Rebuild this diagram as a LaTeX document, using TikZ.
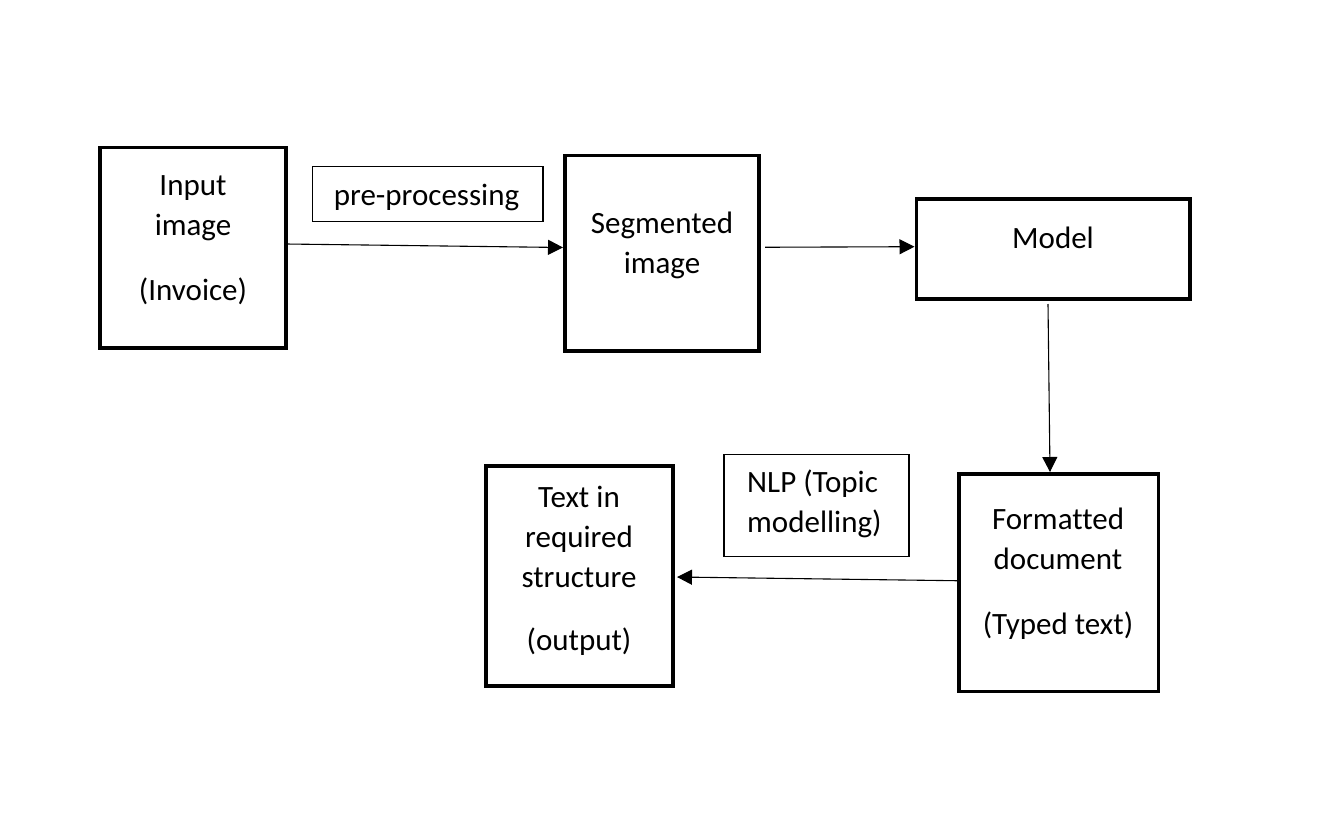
\documentclass[tikz,border=0pt]{standalone}
\usepackage{fontspec}
\setmainfont{Carlito}[Ligatures=NoCommon]
\usetikzlibrary{arrows.meta}
\begin{document}
\begin{tikzpicture}[x=1pt,y=-1pt,
  thickbox/.style={draw=black, line width=3.5pt, inner sep=0pt, outer sep=0pt},
  thinbox/.style={draw=black, line width=1.2pt, inner sep=0pt, outer sep=0pt},
  lbl/.style={font=\fontsize{31}{40}\selectfont, align=center, inner sep=0pt, anchor=base},
  conn/.style={draw=black, line width=1.1pt, -{Triangle[length=15pt,width=15pt]}}]
\useasboundingbox[fill=white] (0,0) rectangle (1322,822);
% boxes
\node[thickbox, minimum width=186pt, minimum height=200.5pt] (inp) at (193,247.75) {};
\node[thickbox, minimum width=194pt, minimum height=195.5pt] (seg) at (662,253.25) {};
\node[thickbox, minimum width=273.5pt, minimum height=100pt] (model) at (1053.25,249) {};
\node[thickbox, minimum width=199.5pt, minimum height=217.5pt] (fmt) at (1058.75,582.75) {};
\node[thickbox, minimum width=187pt, minimum height=220pt] (out) at (579.5,576) {};
\node[thinbox, minimum width=230.5pt, minimum height=55pt] (pre) at (427.75,194) {};
\node[thinbox, minimum width=185pt, minimum height=102pt] (nlp) at (816.5,505.5) {};
% texts (anchored at the baseline of their last line)
\node[lbl] (inpT) at (193,300) {Input\\image\\[25pt](Invoice)};
\node[lbl] (segT) at (662,273) {Segmented\\image};
\node[lbl] (modelT) at (1053,248) {Model};
\node[lbl] (preT) at (426.5,205) {pre-processing};
\node[lbl] (fmtT) at (1058,634) {Formatted\\document\\[25pt](Typed text)};
\node[lbl] (outT) at (579,650.5) {Text in\\required\\structure\\[23pt](output)};
\node[lbl, align=left, anchor=base west] (nlpT) at (747,532.7) {NLP (Topic\\modelling)};
% connectors
\draw[conn] ([yshift=3.75pt]inp.east) -- ([xshift=-2pt,yshift=5.75pt]seg.west);
\draw[conn] ([xshift=6pt,yshift=6pt]seg.east) -- ([xshift=-2pt,yshift=2.3pt]model.west);
\draw[conn] ([xshift=-5.25pt,yshift=-5pt]model.south) -- ([xshift=-8.75pt,yshift=2pt]fmt.north);
\draw[conn] ([yshift=2pt]fmt.west) -- ([xshift=4pt,yshift=-1pt]out.east);
\end{tikzpicture}
\end{document}
